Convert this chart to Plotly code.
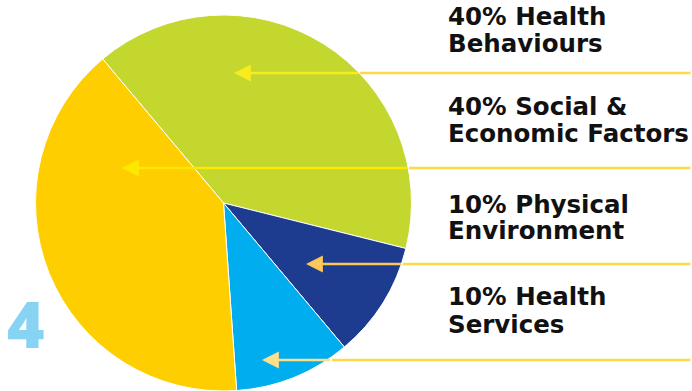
import plotly.graph_objects as go

W, H = 692, 391

categories = ["Health Behaviours", "Physical Environment", "Health Services", "Social & Economic Factors"]
values = [40, 10, 10, 40]
colors = ["#C3D72F", "#1E3C8F", "#00AEEF", "#FFCE00"]

label_lines = [
    ["40% Health", "Behaviours"],
    ["40% Social &", "Economic Factors"],
    ["10% Physical", "Environment"],
    ["10% Health", "Services"],
]

def px(x):
    return x / W

def py(y):
    return 1 - y / H

fig = go.Figure()
fig.add_trace(go.Pie(
    labels=categories, values=values, sort=False, direction="clockwise",
    rotation=-40, textinfo="none", hoverinfo="label+percent",
    marker=dict(colors=colors, line=dict(color="white", width=1)),
    domain=dict(x=[px(35.5), px(411.5)], y=[0, py(15)]),
    showlegend=False,
))

annotations = []
# text labels
line_centers = [(16, 43), (107, 133), (204, 231), (296, 324)]
for lines, ys in zip(label_lines, line_centers):
    for t, yc in zip(lines, ys):
        annotations.append(dict(
            text=t, x=px(446), y=py(yc), xref="paper", yref="paper",
            xanchor="left", yanchor="middle", showarrow=False,
            font=dict(family="DejaVu Sans", size=24.5, color="#111111", weight=700),
        ))

# arrows: (y, tip_x, pie_edge_x, inner_color)
arrows = [
    (73, 234, 360, "#F8EC1E"),
    (168, 122, 409, "#FFE800"),
    (264, 306, 403, "#FFC65A"),
    (360, 262, 332, "#FFE08A"),
]
outer_color = "#FFD94A"
for y, tip, edge, c in arrows:
    annotations.append(dict(
        x=px(edge), y=py(y), xref="paper", yref="paper",
        ax=W - edge, ay=0, axref="pixel", ayref="pixel",
        showarrow=True, arrowhead=0, arrowwidth=2.5, arrowcolor=outer_color, text="",
    ))
    annotations.append(dict(
        x=px(tip), y=py(y), xref="paper", yref="paper",
        ax=edge - tip, ay=0, axref="pixel", ayref="pixel",
        showarrow=True, arrowhead=2, arrowsize=1.35, arrowwidth=2.5, arrowcolor=c, text="",
    ))

annotations.append(dict(
    text="4", x=px(26), y=py(323), xref="paper", yref="paper",
    xanchor="center", yanchor="middle", showarrow=False,
    font=dict(family="Open Sans", size=64, color="#87D3F4", weight=800),
))

fig.update_layout(
    width=W, height=H, margin=dict(l=0, r=0, t=0, b=0),
    paper_bgcolor="white", plot_bgcolor="white",
    annotations=annotations,
)

fig.write_html("out.html")
